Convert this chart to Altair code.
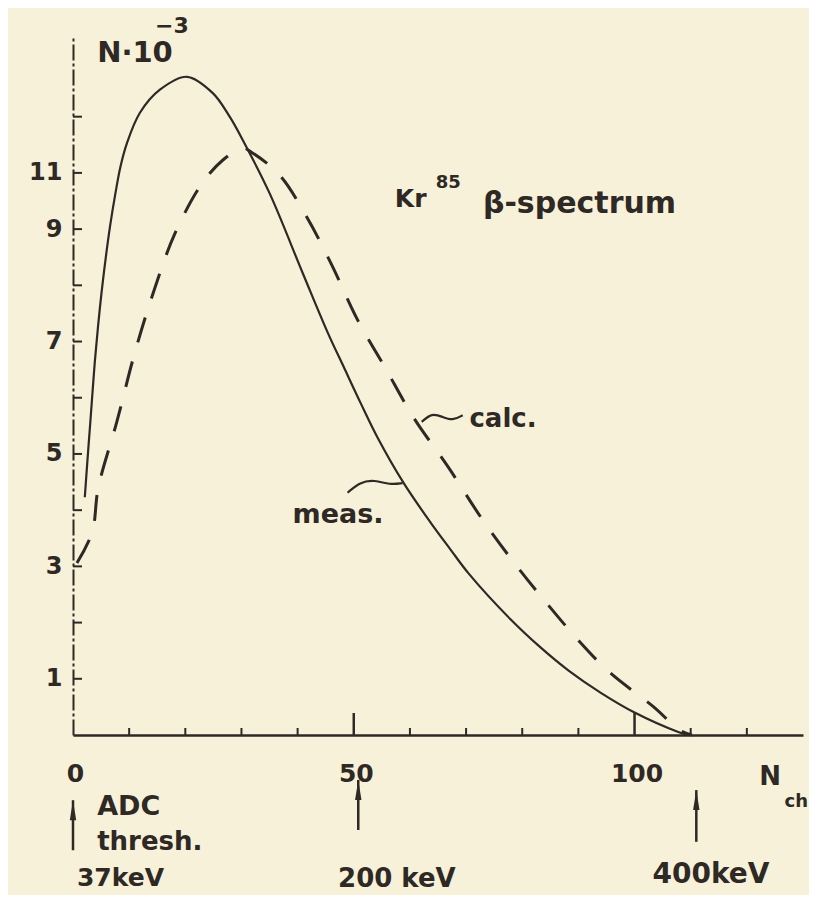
import altair as alt
import pandas as pd

INK = "#2e2924"
BG = "#f7f1d9"
FONT = "DejaVu Sans"

# measured spectrum (solid)
meas_x = [2.1, 2.67, 3.02, 3.47, 3.91, 4.45, 5.07, 5.78, 6.58, 7.56, 8.45, 9.61, 11.92, 15.48,
          20.3, 24.9, 27.9, 30.2, 35.0, 40.9, 45.4, 48.2, 51.25, 54.3, 58.9, 63.75, 67.3, 70.4,
          78.0, 83.0, 88.2, 94.0, 100.0, 107.9, 109.6]
meas_y = [4.23, 5.02, 5.48, 6.09, 6.67, 7.26, 7.86, 8.45, 9.04, 9.64, 10.11, 10.53, 11.07, 11.48,
          11.71, 11.42, 11.0, 10.59, 9.64, 8.22, 7.15, 6.55, 5.90, 5.28, 4.48, 3.77, 3.29, 2.88,
          2.05, 1.58, 1.15, 0.75, 0.40, 0.05, 0.0]

# calculated spectrum (dashed)
calc_x = [0.7, 3.4, 4.5, 7.8, 11.0, 14.4, 18.1, 22.9, 26.7, 30.2, 31.9, 36.8, 41.6, 45.9, 50.7,
          55.5, 60.7, 66.8, 73.2, 78.9, 83.9, 89.6, 95.5, 103.4, 108.0, 110.2]
calc_y = [3.06, 3.6, 4.4, 5.57, 6.8, 7.9, 8.91, 9.8, 10.23, 10.44, 10.36, 9.96, 9.22, 8.4, 7.38,
          6.55, 5.64, 4.77, 3.79, 3.02, 2.40, 1.73, 1.12, 0.50, 0.09, 0.0]

# axis ticks / labels
y_tick_values = [1, 2, 3, 4, 5, 6, 7, 8, 9, 10, 11]
y_label_values = [1, 3, 5, 7, 9, 10]
x_minor_ticks = [10, 20, 30, 40, 60, 70, 80, 90, 110, 120]
x_major_ticks = [50, 100]
x_label_values = [0, 50, 100]

# annotation texts
ann_text = ["N·10", "−3", "Kr", "85", "β-spectrum", "calc.", "meas.",
            "ADC", "thresh.", "37keV", "200 keV", "400keV", "N", "ch"]
ann_x = [4.3, 14.6, 57.3, 64.6, 73.0, 70.6, 39.1,
         4.3, 4.3, 0.7, 47.2, 103.2, 122.2, 126.7]
ann_y = [11.97, 12.49, 9.40, 9.73, 9.28, 5.48, 3.77,
         -1.42, -2.05, -2.68, -2.70, -2.64, -0.89, -1.28]
ann_size = [29, 22, 25, 18, 30, 26, 27,
            27, 26, 25, 26, 28, 26, 18]

# wavy leader lines
meas_brace_x = [48.9, 51.1, 53.7, 56.4, 58.7]
meas_brace_y = [4.31, 4.50, 4.54, 4.45, 4.48]
calc_tilde_x = [62.1, 63.9, 65.8, 67.6, 69.4]
calc_tilde_y = [5.57, 5.73, 5.66, 5.59, 5.69]

# arrows under the axis
arrow_x = [0.0, 50.8, 111.0]
arrow_tail = [-2.05, -1.69, -1.90]
arrow_tip = [-1.16, -0.80, -0.98]

xs = alt.Scale(domain=[0, 130], nice=False, zero=False)
ys = alt.Scale(domain=[0, 12.4], nice=False, zero=False)

meas_df = pd.DataFrame({"x": meas_x, "y": meas_y})
calc_df = pd.DataFrame({"x": calc_x, "y": calc_y})
ann_df = pd.DataFrame({"t": ann_text, "x": ann_x, "y": ann_y, "s": ann_size})
lead_df = pd.DataFrame({
    "x": meas_brace_x + calc_tilde_x,
    "y": meas_brace_y + calc_tilde_y,
    "g": ["m"] * len(meas_brace_x) + ["c"] * len(calc_tilde_x),
    "o": list(range(len(meas_brace_x))) + list(range(len(calc_tilde_x))),
})
arrow_df = pd.DataFrame({"x": arrow_x, "y": arrow_tail, "y2": arrow_tip})

X = alt.X("x:Q", scale=xs)
Y = alt.Y("y:Q", scale=ys)

meas = alt.Chart(meas_df).mark_line(color=INK, strokeWidth=2.2, interpolate="catmull-rom").encode(
    x=alt.X("x:Q", scale=xs, axis=alt.Axis(
        values=x_label_values, ticks=False, grid=False, title=None, format="d",
        domainColor=INK, domainWidth=2.5, labelColor=INK, labelFont=FONT,
        labelFontSize=25, labelFontWeight="bold", labelPadding=26, labelOffset=2,
        labelFlush=False)),
    y=alt.Y("y:Q", scale=ys, axis=alt.Axis(
        values=y_label_values, ticks=False, grid=False, title=None, format="d",
        labelExpr="datum.value == 10 ? '11' : datum.label",
        domainColor=INK, domainWidth=2, domainDash=[16, 3, 3, 3],
        labelColor=INK, labelFont=FONT, labelFontSize=24, labelFontWeight="bold",
        labelPadding=11)),
)

calc = alt.Chart(calc_df).mark_line(color=INK, strokeWidth=3, strokeDash=[26, 20],
                                    interpolate="catmull-rom").encode(x=X, y=Y)

ytk = alt.Chart(pd.DataFrame({"y": y_tick_values})).mark_rule(color=INK, strokeWidth=2).encode(
    y=Y, x=alt.value(0), x2=alt.value(9))

xminor = alt.Chart(pd.DataFrame({"x": x_minor_ticks})).mark_rule(color=INK, strokeWidth=2).encode(
    x=X, y=alt.value(697), y2=alt.value(690))

xmajor = alt.Chart(pd.DataFrame({"x": x_major_ticks})).mark_rule(color=INK, strokeWidth=2.5).encode(
    x=X, y=alt.value(697), y2=alt.value(675))

texts = alt.Chart(ann_df).mark_text(color=INK, font=FONT, fontWeight="bold", align="left",
                                    baseline="alphabetic").encode(
    x=X, y=Y,
    text="t:N",
    size=alt.Size("s:Q", scale=None, legend=None),
)

leads = alt.Chart(lead_df).mark_line(color=INK, strokeWidth=2.2, interpolate="basis").encode(
    x=X, y=Y, detail="g:N", order="o:Q",
)

shafts = alt.Chart(arrow_df).mark_rule(color=INK, strokeWidth=2.5).encode(
    x=X, y=Y, y2="y2:Q",
)

heads = alt.Chart(arrow_df).mark_point(
    shape="M0,0L-0.32,2L0.32,2Z", filled=True, color=INK, opacity=1, size=400, strokeWidth=0
).encode(
    x=X, y=alt.Y("y2:Q", scale=ys),
)

chart = alt.layer(meas, calc, ytk, xminor, xmajor, leads, shafts, heads, texts).properties(
    width=730, height=697,
    padding={"left": 65, "top": 30, "right": 6, "bottom": 160},
    autosize=alt.AutoSizeParams(type="none"),
    background=BG,
).configure_view(stroke=None)

chart.save("out.html", embed_options={"renderer": "svg", "actions": False})
